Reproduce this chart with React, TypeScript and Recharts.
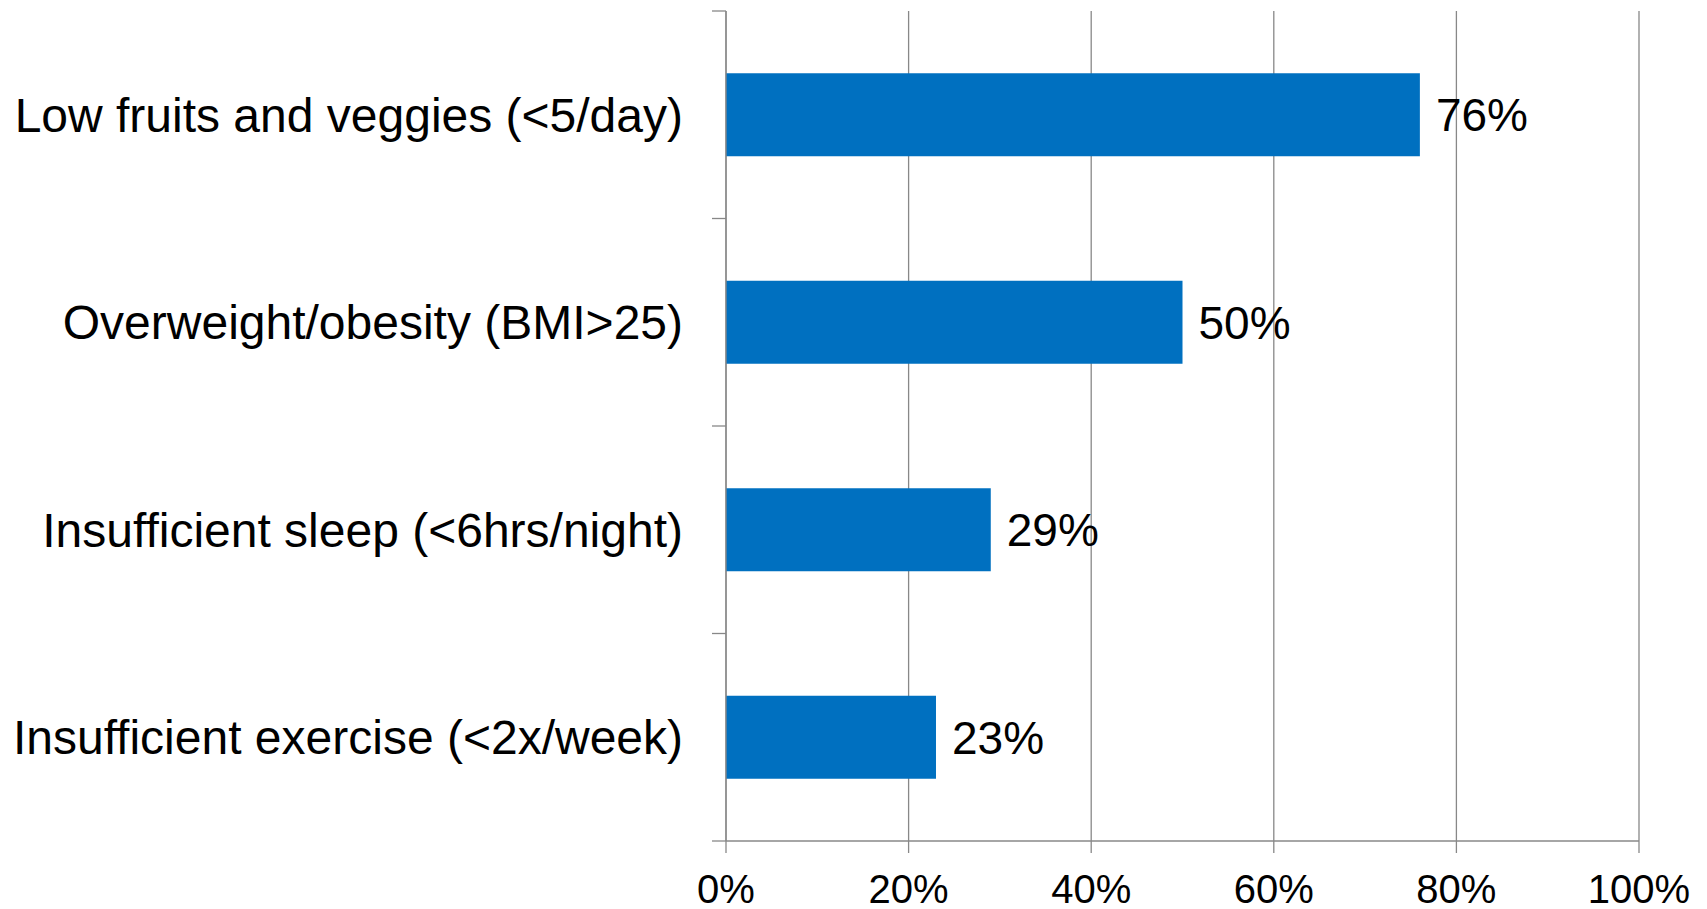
import React from 'react';
import { BarChart, Bar, XAxis, YAxis, CartesianGrid, LabelList } from 'recharts';

const categories = [
  'Low fruits and veggies (<5/day)',
  'Overweight/obesity (BMI>25)',
  'Insufficient sleep (<6hrs/night)',
  'Insufficient exercise (<2x/week)',
];
const shares = [76, 50, 29, 23];
const xTicks = [0, 20, 40, 60, 80, 100];

const data = categories.map((name, i) => ({ name, value: shares[i] }));

const AXIS_GREY = '#888888';
const FONT = '"Liberation Sans", Arial, sans-serif';
const LABEL_GAP = 43;
const EDGE_TICK = 14;

// Category label plus the short tick marks that sit on the band boundaries
const CategoryTick = (props: any) => {
  const { x, y, payload, index } = props;
  const axisX = x + LABEL_GAP;
  const half = payload.offset || 0;
  return (
    <g>
      {index === 0 && (
        <line x1={axisX - EDGE_TICK} x2={axisX} y1={y - half} y2={y - half} stroke={AXIS_GREY} strokeWidth={1.3} />
      )}
      <line x1={axisX - EDGE_TICK} x2={axisX} y1={y + half} y2={y + half} stroke={AXIS_GREY} strokeWidth={1.3} />
      <text x={x} y={y} dy="0.355em" textAnchor="end" fontSize={48} fill="#000" fontFamily={FONT}>
        {payload.value}
      </text>
    </g>
  );
};

export default function App() {
  return (
    <div style={{ position: 'absolute', left: 0, top: 0 }}>
      <BarChart
        width={1707}
        height={909}
        data={data}
        layout="vertical"
        barCategoryGap="30%"
        margin={{ top: 11, right: 68, bottom: 0, left: 0 }}
        style={{ fontFamily: FONT }}
      >
        <CartesianGrid horizontal={false} stroke={AXIS_GREY} strokeWidth={1.3} />
        <XAxis
          type="number"
          domain={[0, 100]}
          ticks={xTicks}
          interval={0}
          tickFormatter={(v: number) => `${v}%`}
          height={68}
          tickSize={12}
          tickMargin={22}
          axisLine={{ stroke: AXIS_GREY, strokeWidth: 1.3 }}
          tickLine={{ stroke: AXIS_GREY, strokeWidth: 1.3 }}
          tick={{ fontSize: 40, fill: '#000' }}
        />
        <YAxis
          type="category"
          dataKey="name"
          width={726}
          tickSize={0}
          tickMargin={LABEL_GAP}
          interval={0}
          axisLine={{ stroke: AXIS_GREY, strokeWidth: 1.3 }}
          tickLine={false}
          tick={<CategoryTick />}
        />
        <Bar dataKey="value" fill="#0070C0" isAnimationActive={false}>
          <LabelList
            dataKey="value"
            position="right"
            offset={16}
            formatter={(v: number) => `${v}%`}
            style={{ fontSize: 46, fill: '#000', fontFamily: FONT }}
          />
        </Bar>
      </BarChart>
    </div>
  );
}
